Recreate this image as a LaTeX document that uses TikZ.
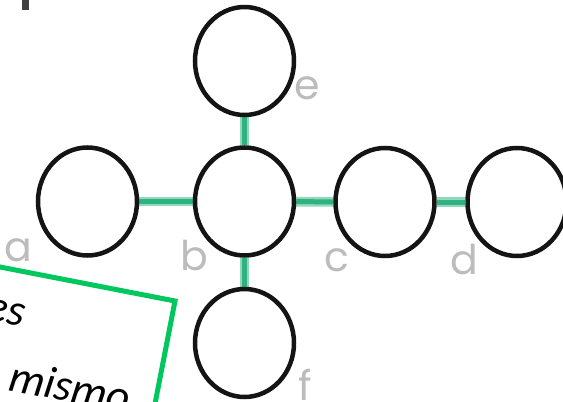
\documentclass[tikz,border=0pt]{standalone}
\usepackage{fontspec}
\setmainfont{Carlito}
\newfontfamily\labfont{Poppins}
\usetikzlibrary{shapes.geometric,backgrounds,calc}
\definecolor{ringc}{RGB}{20,20,20}
\definecolor{linkcore}{RGB}{45,178,128}
\definecolor{linkedge}{RGB}{145,216,188}
\definecolor{boxgreen}{RGB}{0,200,95}
\definecolor{labgray}{RGB}{188,188,188}
\tikzset{
  ring/.style={ellipse, draw=ringc, line width=4.5pt, minimum width=99pt, minimum height=108pt, inner sep=0pt, fill=white},
  link/.style={draw=linkedge, double=linkcore, line width=2.4pt, double distance=5pt},
  lab/.style={text=labgray, font=\labfont\fontsize{41}{44}\selectfont, anchor=base, inner sep=0pt},
  note/.style={font=\itshape\fontsize{45}{50}\selectfont, rotate=-11, inner sep=0pt},
  frame/.style={draw=boxgreen, line width=5pt, line join=miter}
}
\begin{document}
\begin{tikzpicture}[x=1pt,y=-1pt]
\useasboundingbox (0,0) rectangle (563,402);
\clip (0,0) rectangle (563,402);
% top-left mark
\fill[black!75] (22,0) rectangle (29,10);
% rings
\node[ring] (a) at (87.5,201.5) {};
\node[ring] (b) at (244.5,201.5) {};
\node[ring] (c) at (385,202) {};
\node[ring] (d) at (517,202) {};
\node[ring] (e) at (244.5,61) {};
\node[ring] (f) at (244.5,343) {};
\begin{scope}[on background layer]
  \draw[link] (a) -- (b);
  \draw[link] (b) -- (c);
  \draw[link] (c) -- (d);
  \draw[link] (b) -- (e);
  \draw[link] (b) -- (f);
\end{scope}
% labels
\node[lab] (la) at (18,261) {a};
\node[lab] (lb) at (194,270) {b};
\node[lab] (lc) at (337,271) {c};
\node[lab] (ld) at (464,274) {d};
\node[lab] (le) at (307,99) {e};
\node[lab] (lf) at (305,400) {f};
% green frame
\coordinate (corner) at (175,301);
\draw[frame] ($(corner)+(-245.4,-47.7)$) -- (corner) -- ($(corner)+(-38.2,196.3)$);
\node[note, anchor=base east] (t1) at (23,327) {es};
\node[note, anchor=base west] (t2) at (7,390) {mismo};
\end{tikzpicture}
\end{document}
